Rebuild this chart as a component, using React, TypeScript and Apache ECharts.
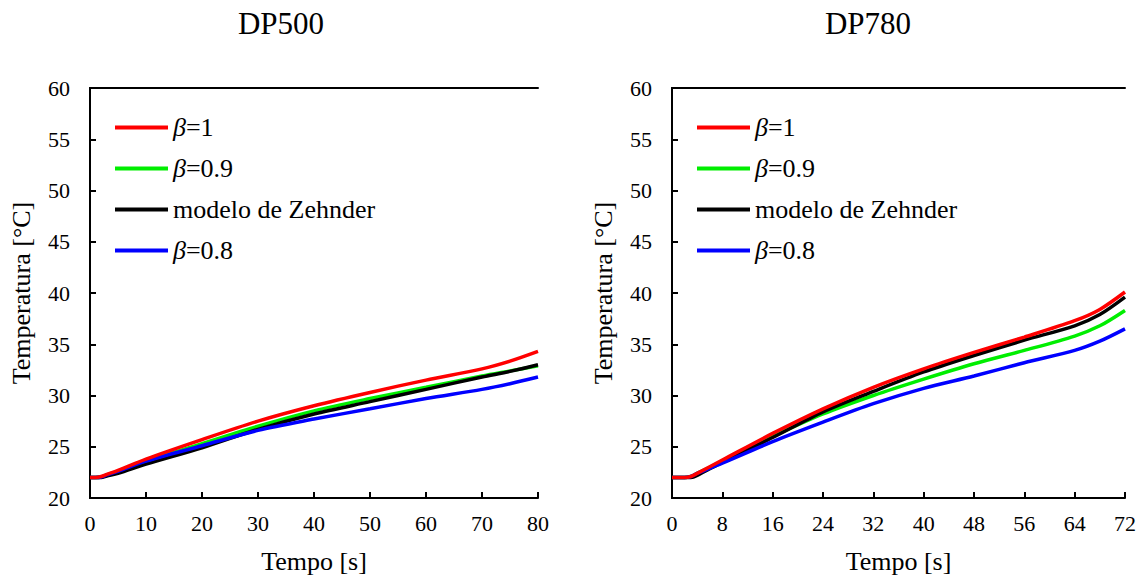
import React, { useEffect, useRef } from "react";
import * as echarts from "echarts";

const FONT = "'Liberation Serif', 'Times New Roman', serif";
const seriesNames = ["β=1", "β=0.9", "modelo de Zehnder", "β=0.8"];
const colors = ["#ff0000", "#00ee00", "#000000", "#0000ff"];

const tA = [0, 1, 2, 3, 5, 10, 20, 30, 40, 50, 60, 70, 75, 80];
const a_b1 = [22, 22, 22.1, 22.3, 22.7, 23.8, 25.7, 27.5, 29.0, 30.3, 31.5, 32.6, 33.35, 34.3];
const a_b09 = [22, 22, 22.05, 22.25, 22.6, 23.6, 25.3, 27.0, 28.5, 29.7, 30.8, 31.9, 32.4, 32.9];
const a_zeh = [22, 22, 22, 22.15, 22.4, 23.3, 24.9, 26.7, 28.2, 29.4, 30.6, 31.8, 32.35, 33.0];
const a_b08 = [22, 22, 22.05, 22.25, 22.6, 23.6, 25.1, 26.6, 27.7, 28.7, 29.7, 30.6, 31.15, 31.8];

const tB = [0, 1, 2, 3, 4, 8, 16, 24, 32, 40, 48, 56, 64, 68, 72];
const b_b1 = [22, 22, 22, 22.1, 22.4, 23.7, 26.3, 28.7, 30.8, 32.6, 34.2, 35.7, 37.3, 38.4, 40.1];
const b_b09 = [22, 22, 22, 22.1, 22.4, 23.6, 26.0, 28.2, 30.0, 31.6, 33.1, 34.4, 35.8, 36.8, 38.3];
const b_zeh = [22, 22, 22, 22.0, 22.2, 23.5, 25.9, 28.4, 30.4, 32.3, 33.9, 35.4, 36.8, 37.9, 39.6];
const b_b08 = [22, 22, 22, 22.1, 22.4, 23.4, 25.5, 27.4, 29.2, 30.7, 31.9, 33.2, 34.4, 35.3, 36.5];

const titles = ["DP500", "DP780"];
const xMax = [80, 72];
const xInterval = [10, 8];
const yName = "Temperatura [°C]";
const xName = "Tempo [s]";

const pair = (t: number[], v: number[]) => t.map((x, i) => [x, v[i]]);

export default function App() {
  const ref = useRef<HTMLDivElement>(null);
  useEffect(() => {
    if (!ref.current) return;
    const chart = echarts.init(ref.current, null, { renderer: "svg" });
    const grids = [
      { left: 90, top: 88, width: 448, height: 410 },
      { left: 672, top: 88, width: 453, height: 410 },
    ];
    const axisLine = { show: true, lineStyle: { color: "#000", width: 2 } };
    const labelStyle = { fontFamily: FONT, fontSize: 22, color: "#000" };
    const xAxes: any[] = [];
    const yAxes: any[] = [];
    [0, 1].forEach((g) => {
      xAxes.push({
        type: "value", gridIndex: g, min: 0, max: xMax[g], interval: xInterval[g],
        axisLine, axisTick: { show: true, inside: true, length: 6, lineStyle: { color: "#000", width: 2 } },
        splitLine: { show: false },
        axisLabel: { ...labelStyle, margin: 14 },
        name: xName, nameLocation: "middle", nameGap: 50,
        nameTextStyle: { fontFamily: FONT, fontSize: 26, color: "#000" },
      });
      xAxes.push({
        type: "value", gridIndex: g, position: "top", min: 0, max: xMax[g],
        axisLine, axisTick: { show: false }, axisLabel: { show: false }, splitLine: { show: false },
      });
      yAxes.push({
        type: "value", gridIndex: g, min: 20, max: 60, interval: 5,
        axisLine, axisTick: { show: true, inside: true, length: 6, lineStyle: { color: "#000", width: 2 } },
        splitLine: { show: false },
        axisLabel: { ...labelStyle, margin: 20 },
        name: yName, nameLocation: "middle", nameGap: 56,
        nameTextStyle: { fontFamily: FONT, fontSize: 26, color: "#000" },
      });
      yAxes.push({
        type: "value", gridIndex: g, position: "right", min: 20, max: 60,
        axisLine, axisTick: { show: false }, axisLabel: { show: false }, splitLine: { show: false },
      });
    });
    const dataA = [a_b1, a_b09, a_zeh, a_b08];
    const dataB = [b_b1, b_b09, b_zeh, b_b08];
    const series: any[] = [];
    [0, 1].forEach((g) => {
      const ds = g === 0 ? dataA : dataB;
      const t = g === 0 ? tA : tB;
      [1, 2, 3, 0].forEach((k) => {
        series.push({
          type: "line", name: seriesNames[k], xAxisIndex: g * 2, yAxisIndex: g * 2,
          data: pair(t, ds[k]), showSymbol: false, smooth: 0.3,
          lineStyle: { color: colors[k], width: 3.5 }, itemStyle: { color: colors[k] },
        });
      });
    });
    const legendCommon = {
      orient: "vertical", top: 102, itemWidth: 53, itemHeight: 4, itemGap: 0, icon: "rect",
      data: seriesNames,
      textStyle: {
        fontFamily: FONT, fontSize: 26, color: "#000", lineHeight: 41,
        rich: {
          b: { fontFamily: FONT, fontSize: 26, fontStyle: "italic", color: "#000", lineHeight: 41 },
          n: { fontFamily: FONT, fontSize: 26, color: "#000", lineHeight: 41 },
        },
      },
      formatter: (n: string) => (n.startsWith("β") ? `{b|β}{n|=${n.slice(2)}}` : `{n|${n}}`),
      selectedMode: false,
    };
    const titleStyle = { fontFamily: FONT, fontSize: 31, fontWeight: "normal", color: "#000" };
    chart.setOption({
      animation: false,
      backgroundColor: "#fff",
      title: [
        { text: titles[0], left: 276, top: 3, textAlign: "center", textStyle: titleStyle },
        { text: titles[1], left: 863, top: 3, textAlign: "center", textStyle: titleStyle },
      ],
      grid: grids,
      xAxis: xAxes,
      yAxis: yAxes,
      legend: [
        { ...legendCommon, left: 110 },
        { ...legendCommon, left: 692 },
      ],
      series,
    });
    return () => chart.dispose();
  }, []);
  return <div ref={ref} style={{ position: "absolute", left: 0, top: 0, width: 1147, height: 584 }} />;
}
